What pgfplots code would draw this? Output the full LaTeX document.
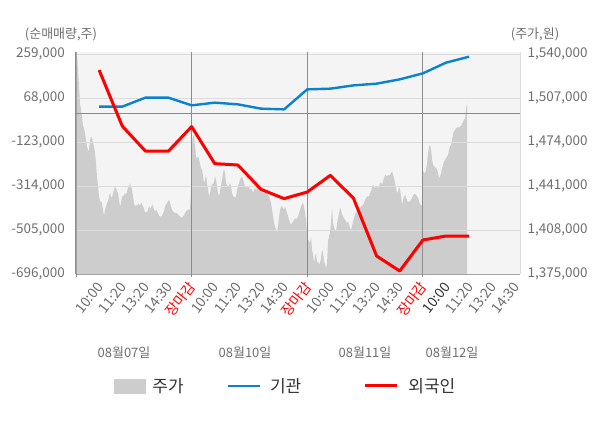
\documentclass[border=0pt]{standalone}
\usepackage{pgfplots}
\pgfplotsset{compat=1.18}
\usepackage{pgfplotstable}
\usepackage{fontspec}
\setmainfont{Noto Sans CJK KR}
\definecolor{bggray}{HTML}{F4F4F4}
\definecolor{areagray}{HTML}{CDCDCD}
\definecolor{gridgray}{HTML}{DCDCDC}
\definecolor{zerogray}{HTML}{8C8C8C}
\definecolor{ticktext}{HTML}{6E6E6E}
\definecolor{darktick}{HTML}{333333}
\definecolor{blueline}{HTML}{0A82D0}
\definecolor{redline}{HTML}{FF0000}
\definecolor{legtext}{HTML}{333333}
\pgfkeys{/pgf/number format/fixed, /pgf/number format/precision=0, /pgf/number format/1000 sep={,}, /pgf/number format/assume math mode=true}
\newcommand{\xl}[1]{{\fontsize{14}{16}\selectfont #1}}

\pgfplotstableread{
x y
0.000 1375000
0.000 1538250
0.043 1538250
0.087 1528250
0.130 1515750
0.173 1503250
0.216 1498250
0.260 1493250
0.303 1485750
0.346 1484500
0.389 1480750
0.433 1475750
0.476 1470750
0.519 1468250
0.562 1467000
0.606 1475750
0.649 1478250
0.692 1477000
0.735 1473250
0.779 1470750
0.822 1465750
0.865 1458250
0.908 1448250
0.952 1440750
0.995 1433250
1.038 1429500
1.081 1429500
1.125 1428250
1.168 1423250
1.211 1418250
1.254 1423250
1.298 1425750
1.341 1428250
1.384 1429500
1.427 1433250
1.471 1435750
1.514 1433250
1.557 1432000
1.600 1435750
1.644 1438250
1.687 1440750
1.730 1439500
1.773 1437000
1.817 1435750
1.860 1430750
1.903 1425750
1.946 1428250
1.990 1433250
2.033 1433250
2.076 1434500
2.119 1435750
2.163 1434500
2.206 1437000
2.249 1439500
2.292 1440750
2.336 1443250
2.379 1440750
2.422 1438250
2.465 1433250
2.509 1428250
2.552 1425750
2.595 1427000
2.638 1425750
2.682 1427750
2.725 1427000
2.768 1426250
2.811 1428250
2.855 1427750
2.898 1425750
2.941 1424500
2.984 1420750
3.028 1422000
3.071 1420750
3.114 1423250
3.157 1425750
3.201 1424500
3.244 1424500
3.287 1427000
3.330 1426250
3.374 1423250
3.417 1422000
3.460 1423250
3.503 1422000
3.547 1420750
3.590 1418750
3.633 1418250
3.676 1418250
3.720 1418750
3.763 1420750
3.806 1422000
3.849 1425750
3.893 1427000
3.936 1428250
3.979 1429500
4.022 1430750
4.066 1428250
4.109 1425750
4.152 1423250
4.196 1422000
4.282 1420750
4.369 1420750
4.412 1419500
4.498 1418250
4.585 1417000
4.628 1418250
4.671 1419500
4.715 1420750
4.758 1422000
4.801 1422750
4.844 1423250
4.931 1423250
4.974 1438250
5.017 1473250
5.061 1479500
5.104 1478250
5.147 1470750
5.190 1463250
5.234 1462000
5.277 1463250
5.320 1460750
5.363 1458250
5.407 1453250
5.450 1454500
5.493 1448250
5.536 1443250
5.580 1445750
5.623 1449500
5.666 1443250
5.709 1438250
5.753 1433250
5.796 1435750
5.839 1439500
5.882 1443250
5.926 1442000
5.969 1444500
6.012 1448250
6.055 1445750
6.099 1440750
6.142 1435750
6.185 1433250
6.228 1437000
6.272 1442000
6.315 1445750
6.358 1450750
6.401 1453750
6.445 1450750
6.488 1443250
6.531 1442000
6.574 1440750
6.618 1441250
6.661 1443250
6.704 1440750
6.747 1435750
6.791 1433250
6.834 1433250
6.877 1432000
6.920 1433250
6.964 1438250
7.007 1440750
7.050 1443250
7.093 1445750
7.137 1447000
7.180 1448250
7.223 1445750
7.266 1443250
7.310 1440750
7.353 1439500
7.396 1440750
7.439 1440750
7.483 1440000
7.526 1438250
7.569 1439500
7.612 1438250
7.656 1435750
7.699 1438250
7.742 1439500
7.785 1438250
7.829 1438750
7.872 1439500
7.915 1438750
7.958 1438250
8.002 1437000
8.045 1437000
8.088 1438250
8.131 1438250
8.175 1437000
8.218 1435750
8.261 1435250
8.304 1433750
8.348 1433250
8.391 1430750
8.434 1428250
8.478 1423250
8.521 1418250
8.564 1413250
8.607 1410750
8.651 1408250
8.694 1405750
8.737 1410750
8.780 1418250
8.824 1423250
8.867 1425750
8.910 1425750
8.953 1424500
8.997 1423250
9.040 1425750
9.083 1423250
9.126 1420750
9.170 1418250
9.213 1415750
9.256 1413250
9.299 1412000
9.343 1413250
9.386 1414500
9.429 1415750
9.472 1417000
9.516 1415750
9.559 1417000
9.602 1418250
9.645 1420750
9.689 1423250
9.732 1425750
9.775 1427750
9.818 1428250
9.862 1425750
9.905 1420750
9.948 1415750
9.991 1405750
10.035 1400750
10.078 1399500
10.121 1398250
10.164 1403250
10.208 1393250
10.251 1389500
10.294 1383250
10.337 1388250
10.381 1390750
10.424 1383250
10.467 1384500
10.510 1382000
10.554 1383250
10.597 1387000
10.640 1393250
10.683 1390750
10.727 1384500
10.770 1382000
10.813 1379500
10.857 1383250
10.900 1399500
10.943 1403250
10.986 1405750
11.030 1414500
11.073 1424500
11.116 1413250
11.159 1409500
11.203 1408250
11.246 1407000
11.289 1413250
11.332 1417000
11.376 1420750
11.419 1424500
11.462 1423250
11.505 1419500
11.549 1418250
11.592 1417000
11.635 1415750
11.678 1414500
11.722 1413250
11.765 1414500
11.808 1412000
11.851 1409500
11.895 1408250
11.938 1410750
11.981 1414500
12.024 1417000
12.068 1419500
12.111 1420750
12.154 1423250
12.197 1424500
12.241 1425750
12.284 1423250
12.327 1425750
12.370 1426250
12.414 1427000
12.457 1428250
12.500 1430750
12.543 1432000
12.587 1433250
12.630 1433250
12.673 1433250
12.716 1435750
12.760 1437000
12.803 1440750
12.846 1442000
12.889 1440750
12.933 1439500
12.976 1440750
13.019 1440750
13.062 1439500
13.106 1440750
13.149 1443250
13.192 1443750
13.235 1442000
13.279 1444500
13.322 1447000
13.365 1449500
13.408 1448750
13.452 1448250
13.495 1449500
13.538 1448750
13.581 1449500
13.625 1450750
13.668 1452000
13.711 1449500
13.754 1447000
13.798 1443250
13.841 1439500
13.884 1435750
13.927 1437000
13.971 1440750
14.014 1438250
14.057 1433250
14.100 1427000
14.144 1430750
14.187 1433250
14.230 1434500
14.273 1432000
14.317 1430250
14.360 1428750
14.403 1429500
14.446 1429500
14.490 1430750
14.533 1432000
14.576 1433750
14.619 1435000
14.663 1435000
14.706 1434500
14.749 1433250
14.792 1432000
14.836 1429500
14.879 1427000
14.922 1427000
14.965 1425750
15.009 1452000
15.052 1451250
15.095 1450750
15.138 1453250
15.182 1458250
15.225 1465750
15.268 1470750
15.311 1472000
15.355 1468250
15.398 1460750
15.441 1457000
15.484 1455750
15.528 1455250
15.571 1454500
15.614 1453250
15.657 1450750
15.701 1447000
15.744 1448250
15.787 1450750
15.830 1454500
15.874 1457000
15.917 1459500
15.960 1460750
16.003 1462000
16.047 1463250
16.090 1464500
16.133 1468250
16.176 1470750
16.220 1472000
16.263 1475750
16.306 1480750
16.349 1482000
16.393 1483250
16.436 1484500
16.479 1485000
16.522 1485250
16.566 1484500
16.609 1485750
16.652 1486250
16.695 1487750
16.739 1489500
16.782 1490750
16.825 1492000
16.868 1499500
16.912 1503250
16.912 1375000
}\pricetable

\begin{document}
\begin{tikzpicture}
\useasboundingbox (0pt,0pt) rectangle (600pt,428pt);
% price (right axis) with background and area
\begin{axis}[
  at={(76pt,154pt)}, anchor=south west,
  width=444pt, height=222pt, scale only axis,
  xmin=0, xmax=19.2,
  ymin=1375000, ymax=1541700,
  axis background/.style={fill=bggray},
  hide x axis,
  axis y line*=right,
  y axis line style={-, draw=gridgray, line width=0.8pt},
  ytick={1375000,1408000,1441000,1474000,1507000,1540000},
  scaled y ticks=false,
  major tick length=0pt,
  yticklabel style={anchor=west, inner sep=0pt, xshift=7.5pt, color=ticktext, font=\fontsize{13.5}{15}\selectfont},
]
\addplot[fill=areagray, draw=none] table[x=x, y=y] {\pricetable} -- cycle;
\end{axis}
% net buying (left axis)
\begin{axis}[
  at={(76pt,154pt)}, anchor=south west,
  width=444pt, height=222pt, scale only axis,
  xmin=0, xmax=19.2,
  ymin=-696000, ymax=268000,
  axis x line*=bottom, axis y line*=left,
  axis line style={-, draw=zerogray!80, line width=0.8pt},
  ytick={-696000,-505000,-314000,-123000,68000,259000},
  scaled y ticks=false,
  ymajorgrids,
  major grid style={draw=gridgray, line width=0.8pt},
  extra y ticks={0}, extra y tick labels={},
  extra y tick style={grid=major, major grid style={draw=zerogray, line width=1pt}},
  xtick={1,...,19},
  xticklabels={\xl{10:00},\xl{11:20},\xl{13:20},\xl{14:30},\xl{\textcolor{red}{장마감}},\xl{10:00},\xl{11:20},\xl{13:20},\xl{14:30},\xl{\textcolor{red}{장마감}},\xl{10:00},\xl{11:20},\xl{13:20},\xl{14:30},\xl{\textcolor{red}{장마감}},\xl{\textcolor{darktick}{10:00}},\xl{11:20},\xl{13:20},\xl{14:30}},
  extra x ticks={0,5,10,15}, extra x tick labels={},
  extra x tick style={grid=major, major grid style={draw=zerogray, line width=1pt}, major tick length=3.5pt, tick align=outside, tick style={draw=zerogray, line width=0.8pt}},
  major tick length=0pt,
  yticklabel style={anchor=east, inner sep=0pt, xshift=-11pt, color=ticktext, font=\fontsize{13.5}{15}\selectfont},
  xticklabel style={xshift=1pt, yshift=-10pt, rotate=52, anchor=east, inner sep=0pt, color=ticktext},
  legend columns=3,
  legend image code/.code={\draw[#1, line cap=butt] (0pt,0pt) -- (32pt,0pt);},
  legend style={at={(0.0856,-0.5045)}, anchor=west, draw=none, fill=none,
    inner sep=0pt, outer sep=0pt, nodes={inner sep=0pt},
    font=\fontsize{17}{20}\selectfont, text=legtext,
    /tikz/column 1/.style={column sep=7pt},
    /tikz/column 2/.style={column sep=43pt},
    /tikz/column 3/.style={column sep=9pt},
    /tikz/column 4/.style={column sep=62pt},
    /tikz/column 5/.style={column sep=10pt}},
]
\addlegendimage{legend image code/.code={\fill[areagray] (0pt,-7pt) rectangle (31pt,7pt);}}
\addlegendentry{주가}
\addplot[blueline, line width=2.4pt, line join=round] coordinates {
(1,30700) (2,30700) (3,69700) (4,69700) (5,36300) (6,48000) (7,40650) (8,22000) (9,18950)
(10,105770) (11,108800) (12,123100) (13,130500) (14,149200) (15,175200) (16,221700) (17,247700)};
\addlegendentry{기관}
\addplot[redline, line width=3pt, line join=round] coordinates {
(1,189550) (2,-53550) (3,-162070) (4,-162070) (5,-56150) (6,-216770) (7,-222850) (8,-328330) (9,-368700)
(10,-340050) (11,-267560) (12,-367400) (13,-617880) (14,-683000) (15,-548400) (16,-531060) (17,-531060)};
\addlegendentry{외국인}
\end{axis}
\begin{scope}[every node/.style={color=ticktext, font=\fontsize{13}{15}\selectfont}]
\node at (61pt,394pt) {(순매매량,주)};
\node at (535pt,394pt) {(주가,원)};
\node at (124pt,75pt) {08월07일};
\node at (245pt,75pt) {08월10일};
\node at (365pt,75pt) {08월11일};
\node at (452pt,75pt) {08월12일};
\end{scope}
\end{tikzpicture}
\end{document}
